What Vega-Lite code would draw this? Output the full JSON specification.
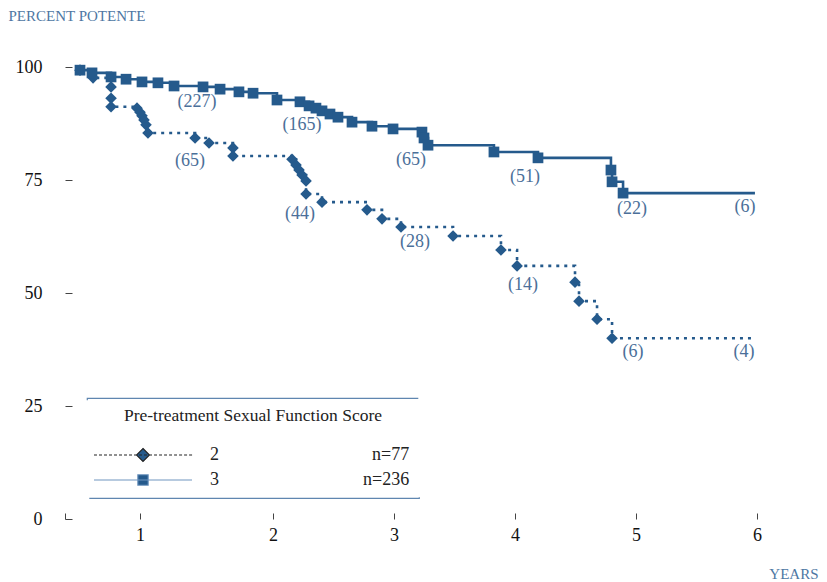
{
  "$schema": "https://vega.github.io/schema/vega-lite/v6.json",
  "width": 692,
  "height": 452,
  "autosize": "none",
  "padding": {"left": 65, "top": 67, "right": 70, "bottom": 63},
  "background": "white",
  "config": {
    "view": {"stroke": null},
    "font": "Liberation Serif",
    "legend": {
      "orient": "none",
      "legendX": 22,
      "legendY": 331,
      "padding": 9,
      "titleFont": "Liberation Serif",
      "titleFontSize": 17.5,
      "titleFontWeight": "normal",
      "titleColor": "#222222",
      "titleAnchor": "middle",
      "titleLimit": 500,
      "titlePadding": 21.5,
      "rowPadding": 7,
      "symbolSize": 169,
      "symbolOffset": 38,
      "symbolStrokeWidth": 1.1,
      "symbolFillColor": "#255a8c",
      "symbolOpacity": 1,
      "labelOffset": 58,
      "labelFont": "Liberation Serif",
      "labelFontSize": 18,
      "labelColor": "#222222",
      "labelLimit": 500,
      "strokeColor": "#5f86b0",
      "strokeWidth": 1.2,
      "strokeDash": [331, 100, 331, 100]
    }
  },
  "datasets": {
    "km": [
      {"group": "3", "t": 0.6, "s": 99.3, "event": 1},
      {"group": "3", "t": 0.68, "s": 98.7, "event": 1},
      {"group": "3", "t": 0.807, "s": 97.8, "event": 1},
      {"group": "3", "t": 0.907, "s": 97.3, "event": 1},
      {"group": "3", "t": 1.015, "s": 96.7, "event": 1},
      {"group": "3", "t": 1.135, "s": 96.5, "event": 1},
      {"group": "3", "t": 1.256, "s": 95.8, "event": 1},
      {"group": "3", "t": 1.474, "s": 95.6, "event": 1},
      {"group": "3", "t": 1.602, "s": 95.1, "event": 1},
      {"group": "3", "t": 1.744, "s": 94.5, "event": 1},
      {"group": "3", "t": 1.85, "s": 94.2, "event": 1},
      {"group": "3", "t": 2.033, "s": 92.7, "event": 1},
      {"group": "3", "t": 2.223, "s": 92.3, "event": 1},
      {"group": "3", "t": 2.298, "s": 91.4, "event": 1},
      {"group": "3", "t": 2.355, "s": 90.9, "event": 1},
      {"group": "3", "t": 2.405, "s": 90.3, "event": 1},
      {"group": "3", "t": 2.471, "s": 89.6, "event": 1},
      {"group": "3", "t": 2.537, "s": 88.9, "event": 1},
      {"group": "3", "t": 2.653, "s": 87.8, "event": 1},
      {"group": "3", "t": 2.818, "s": 86.9, "event": 1},
      {"group": "3", "t": 2.992, "s": 86.3, "event": 1},
      {"group": "3", "t": 3.231, "s": 85.6, "event": 1},
      {"group": "3", "t": 3.248, "s": 84.3, "event": 1},
      {"group": "3", "t": 3.281, "s": 82.7, "event": 1},
      {"group": "3", "t": 3.826, "s": 81.2, "event": 1},
      {"group": "3", "t": 4.19, "s": 79.9, "event": 1},
      {"group": "3", "t": 4.793, "s": 77.2, "event": 1},
      {"group": "3", "t": 4.802, "s": 74.6, "event": 1},
      {"group": "3", "t": 4.893, "s": 72.1, "event": 1},
      {"group": "3", "t": 5.983, "s": 72.1, "event": 0},
      {"group": "2", "t": 0.6, "s": 99.3, "event": 1},
      {"group": "2", "t": 0.687, "s": 97.6, "event": 1},
      {"group": "2", "t": 0.807, "s": 95.6, "event": 1},
      {"group": "2", "t": 0.807, "s": 93.1, "event": 1},
      {"group": "2", "t": 0.807, "s": 91.2, "event": 1},
      {"group": "2", "t": 0.98, "s": 90.9, "event": 1},
      {"group": "2", "t": 1.0, "s": 90.0, "event": 1},
      {"group": "2", "t": 1.015, "s": 89.2, "event": 1},
      {"group": "2", "t": 1.03, "s": 88.3, "event": 1},
      {"group": "2", "t": 1.045, "s": 87.2, "event": 1},
      {"group": "2", "t": 1.06, "s": 85.4, "event": 1},
      {"group": "2", "t": 1.414, "s": 84.3, "event": 1},
      {"group": "2", "t": 1.519, "s": 83.2, "event": 1},
      {"group": "2", "t": 1.699, "s": 82.1, "event": 1},
      {"group": "2", "t": 1.699, "s": 80.3, "event": 1},
      {"group": "2", "t": 2.157, "s": 79.6, "event": 1},
      {"group": "2", "t": 2.19, "s": 78.3, "event": 1},
      {"group": "2", "t": 2.215, "s": 77.2, "event": 1},
      {"group": "2", "t": 2.24, "s": 76.1, "event": 1},
      {"group": "2", "t": 2.273, "s": 74.8, "event": 1},
      {"group": "2", "t": 2.273, "s": 71.9, "event": 1},
      {"group": "2", "t": 2.405, "s": 70.1, "event": 1},
      {"group": "2", "t": 2.777, "s": 68.4, "event": 1},
      {"group": "2", "t": 2.901, "s": 66.4, "event": 1},
      {"group": "2", "t": 3.058, "s": 64.6, "event": 1},
      {"group": "2", "t": 3.488, "s": 62.6, "event": 1},
      {"group": "2", "t": 3.884, "s": 59.5, "event": 1},
      {"group": "2", "t": 4.017, "s": 56.0, "event": 1},
      {"group": "2", "t": 4.496, "s": 52.4, "event": 1},
      {"group": "2", "t": 4.529, "s": 48.2, "event": 1},
      {"group": "2", "t": 4.678, "s": 44.2, "event": 1},
      {"group": "2", "t": 4.802, "s": 40.0, "event": 1},
      {"group": "2", "t": 5.983, "s": 40.0, "event": 0}
    ],
    "atrisk": [
      {"t": 1.429, "s": 92.3, "label": "(227)"},
      {"t": 2.24, "s": 87.2, "label": "(165)"},
      {"t": 3.14, "s": 79.4, "label": "(65)"},
      {"t": 4.083, "s": 75.7, "label": "(51)"},
      {"t": 4.967, "s": 68.6, "label": "(22)"},
      {"t": 5.901, "s": 69.0, "label": "(6)"},
      {"t": 1.376, "s": 79.2, "label": "(65)"},
      {"t": 2.223, "s": 67.5, "label": "(44)"},
      {"t": 3.174, "s": 61.3, "label": "(28)"},
      {"t": 4.066, "s": 51.8, "label": "(14)"},
      {"t": 4.975, "s": 36.9, "label": "(6)"},
      {"t": 5.893, "s": 36.9, "label": "(4)"}
    ]
  },
  "encoding": {
    "x": {
      "field": "t",
      "type": "quantitative",
      "scale": {"domain": [0.5, 1, 2, 3, 4, 5, 6], "range": [0, 75, 208, 329, 450, 571, 692], "nice": false, "zero": false},
      "axis": {
        "values": [0.5, 1, 2, 3, 4, 5, 6],
        "tickCount": 20,
        "tickMinStep": 0.1,
        "labelExpr": "datum.value < 0.9 ? '' : format(datum.value, 'd')",
        "domain": false,
        "grid": false,
        "offset": -6,
        "tickSize": 6,
        "tickColor": "#444444",
        "tickWidth": 1,
        "labelFont": "Liberation Serif",
        "labelFontSize": 18,
        "labelColor": "#111111",
        "labelPadding": 7,
        "labelFlush": false,
        "labelOverlap": false,
        "title": "YEARS",
        "titleFont": "Liberation Serif",
        "titleFontSize": 15,
        "titleFontWeight": "normal",
        "titleColor": "#4e77a3",
        "titleX": 753,
        "titleY": 60,
        "titleAlign": "right",
        "titleBaseline": "middle"
      }
    },
    "y": {
      "field": "s",
      "type": "quantitative",
      "scale": {"domain": [0, 100], "nice": false, "zero": true},
      "axis": {
        "values": [0, 25, 50, 75, 100],
        "tickCount": 20,
        "domain": false,
        "grid": false,
        "offset": -7,
        "tickSize": 7,
        "tickColor": "#444444",
        "tickWidth": 1,
        "labelFont": "Liberation Serif",
        "labelFontSize": 18,
        "labelColor": "#111111",
        "labelPadding": 23,
        "title": "PERCENT POTENTE",
        "titleFont": "Liberation Serif",
        "titleFontSize": 15,
        "titleFontWeight": "normal",
        "titleColor": "#4e77a3",
        "titleAngle": 0,
        "titleAlign": "left",
        "titleBaseline": "middle",
        "titleX": -64,
        "titleY": -52
      }
    }
  },
  "layer": [
    {
      "data": {"name": "km"},
      "transform": [{"filter": "datum.group == '2'"}],
      "mark": {"type": "line", "interpolate": "step-after", "color": "#255a8c", "strokeWidth": 2.6, "strokeDash": [3, 5]},
      "encoding": {
        "order": [
          {"field": "t", "sort": "ascending"},
          {"field": "s", "sort": "descending"}
        ]
      }
    },
    {
      "data": {"name": "km"},
      "transform": [{"filter": "datum.group == '3'"}],
      "mark": {"type": "line", "interpolate": "step-after", "color": "#255a8c", "strokeWidth": 2.6},
      "encoding": {
        "order": [
          {"field": "t", "sort": "ascending"},
          {"field": "s", "sort": "descending"}
        ]
      }
    },
    {
      "data": {"name": "km"},
      "transform": [{"filter": "datum.event == 1 && datum.group == '2'"}],
      "mark": {"type": "point", "shape": "diamond", "filled": true, "size": 135, "color": "#255a8c", "opacity": 1}
    },
    {
      "data": {"name": "km"},
      "transform": [{"filter": "datum.event == 1 && datum.group == '3'"}],
      "mark": {"type": "point", "shape": "square", "filled": true, "size": 115, "color": "#255a8c", "opacity": 1}
    },
    {
      "data": {"name": "km"},
      "transform": [{"filter": "datum.event == 2"}],
      "mark": {"type": "point", "filled": true, "color": "#255a8c", "opacity": 1},
      "encoding": {
        "shape": {
          "field": "group",
          "type": "nominal",
          "scale": {
            "domain": ["2", "3"],
            "range": [
              "M-7.54,0h0.46M-6.77,0h0.46M-6,0h0.46M-5.23,0h0.46M-4.46,0h0.46M-3.69,0h0.46M-2.92,0h0.46M-2.15,0h0.46M-1.38,0h0.46M-0.61,0h0.46M0.16,0h0.46M0.93,0h0.46M1.7,0h0.46M2.47,0h0.46M3.24,0h0.46M4.01,0h0.46M4.78,0h0.46M5.55,0h0.46M6.32,0h0.46M7.09,0h0.46M0,-1L1,0L0,1L-1,0Z",
              "M-7.54,0H7.54M-0.8,-0.8H0.8V0.8H-0.8Z"
            ]
          },
          "legend": {
            "title": "Pre-treatment Sexual Function Score",
            "labelExpr": "datum.value == '2' ? pad('2', 35, '\u00a0') + 'n=77' : pad('3', 33, '\u00a0') + 'n=236'"
          }
        },
        "stroke": {
          "field": "group",
          "type": "nominal",
          "scale": {"domain": ["2", "3"], "range": ["#222222", "#7096c0"]},
          "legend": {
            "title": "Pre-treatment Sexual Function Score",
            "labelExpr": "datum.value == '2' ? pad('2', 35, '\u00a0') + 'n=77' : pad('3', 33, '\u00a0') + 'n=236'"
          }
        }
      }
    },
    {
      "data": {"name": "atrisk"},
      "mark": {"type": "text", "font": "Liberation Serif", "fontSize": 18, "color": "#4b6f99", "align": "center", "baseline": "middle"},
      "encoding": {
        "text": {"field": "label", "type": "nominal"}
      }
    }
  ]
}
